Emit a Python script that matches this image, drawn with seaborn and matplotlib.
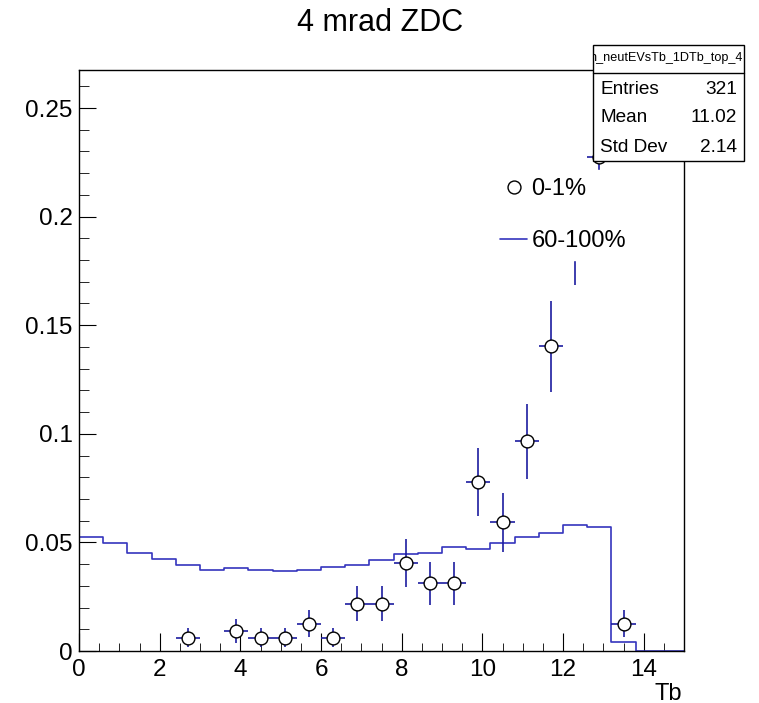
import numpy as np
import pandas as pd
import matplotlib
matplotlib.use("Agg")
import matplotlib.pyplot as plt
import seaborn as sns
from matplotlib.lines import Line2D
from matplotlib.patches import Rectangle
from matplotlib.ticker import MultipleLocator

# ------------ data -----------------------------------
# 25 bins of width 0.6 between 0 and 15
bin_edges = np.linspace(0, 15, 26)
bin_centers = 0.5 * (bin_edges[:-1] + bin_edges[1:])

# 60-100% (normalised histogram, blue step line)
peripheral = [0.0526, 0.0498, 0.0449, 0.0424, 0.0394, 0.0371, 0.0381, 0.0374,
              0.0369, 0.0375, 0.0386, 0.0394, 0.0418, 0.0446, 0.0449, 0.0479,
              0.0470, 0.0498, 0.0527, 0.0545, 0.0580, 0.0570, 0.0041, 0.0, 0.0]

# 0-1% (points with errors), only non-empty bins
central_x = [2.7, 3.9, 4.5, 5.1, 5.7, 6.3, 6.9, 7.5, 8.1, 8.7, 9.3, 9.9,
             10.5, 11.1, 11.7, 12.3, 12.9, 13.5]
central_y = [0.0062, 0.0093, 0.0062, 0.0062, 0.0125, 0.0062, 0.0218, 0.0218,
             0.0405, 0.0312, 0.0312, 0.0779, 0.0592, 0.0966, 0.1402, 0.1931,
             0.2274, 0.0125]
central_err = [0.0044, 0.0054, 0.0044, 0.0044, 0.0062, 0.0044, 0.0082, 0.0082,
               0.0112, 0.0099, 0.0099, 0.0156, 0.0136, 0.0173, 0.0209, 0.0245,
               0.0266, 0.0062]

stats_name = "h_neutEVsTb_1DTb_top_4"
stats_rows = [("Entries", "321"), ("Mean", "11.02"), ("Std Dev", "2.14")]

hist_color = "#3535bd"
err_color = "#1c1ca0"

df_per = pd.DataFrame({"Tb": bin_centers, "w": peripheral})
df_cen = pd.DataFrame({"Tb": central_x, "y": central_y, "err": central_err})

# ------------ figure --------------
sns.set_style("ticks")
plt.rcParams["font.family"] = ["Liberation Sans", "DejaVu Sans"]
plt.rcParams["text.color"] = "black"
plt.rcParams["axes.labelcolor"] = "black"
plt.rcParams["xtick.color"] = "black"
plt.rcParams["ytick.color"] = "black"

W, H = 759, 703
fig = plt.figure(figsize=(W / 100, H / 100), dpi=100)
ax = fig.add_axes([79 / W, 52 / H, 605 / W, 581 / H])

sns.histplot(data=df_per, x="Tb", weights="w", binwidth=0.6, binrange=(0, 15),
             element="step", fill=False, color=hist_color, linewidth=1.2, ax=ax)

ax.errorbar(df_cen["Tb"], df_cen["y"], yerr=df_cen["err"], xerr=0.3, fmt="none",
            ecolor=err_color, elinewidth=1.2, capsize=0, zorder=2)
sns.scatterplot(data=df_cen, x="Tb", y="y", marker="o", s=85, color="white",
                edgecolor="black", linewidth=1.0, zorder=3, ax=ax)

ax.set_xlim(0, 15)
ax.set_ylim(0, 0.2675)
ax.xaxis.set_major_locator(MultipleLocator(2))
ax.xaxis.set_minor_locator(MultipleLocator(0.5))
ax.yaxis.set_minor_locator(MultipleLocator(0.01))
ax.set_yticks([0, 0.05, 0.1, 0.15, 0.2, 0.25])
ax.set_yticklabels(["0", "0.05", "0.1", "0.15", "0.2", "0.25"])
ax.tick_params(which="both", direction="in", labelsize=17.5, color="black",
               labelcolor="black")
ax.tick_params(axis="x", which="major", length=13, pad=6)
ax.tick_params(axis="x", which="minor", length=6)
ax.tick_params(axis="y", which="major", length=12, pad=4.5)
ax.tick_params(axis="y", which="minor", length=7)
for s in ax.spines.values():
    s.set_visible(True)
    s.set_color("black")
    s.set_linewidth(1.0)
ax.set_ylabel("")
ax.set_xlabel("Tb", fontsize=17, ha="right", va="baseline")
ax.xaxis.set_label_coords(0.997, -0.0835)

fig.text(380 / W, 1 - 23 / H, "4 mrad ZDC", fontsize=22, ha="center", va="center")

# legend
handles = [
    Line2D([], [], linestyle="none", marker="o", markersize=9.3,
           markerfacecolor="white", markeredgecolor="black", markeredgewidth=1.0),
    Line2D([], [], color=hist_color, linewidth=1.2),
]
leg = ax.legend(handles, ["0-1%", "60-100%"], loc="upper left",
                bbox_to_anchor=(492 / W, 1 - 170 / H), bbox_transform=fig.transFigure,
                fontsize=17, frameon=True, fancybox=False, framealpha=1.0,
                facecolor="white", edgecolor="white", borderpad=0.35,
                borderaxespad=0, handlelength=1.15, handletextpad=0.17,
                labelspacing=1.25)
leg.set_zorder(5)

# stats box
x0, x1, y0, y1, ysep = 593, 744, 45, 161, 73
box = Rectangle((x0 / W, 1 - y1 / H), (x1 - x0) / W, (y1 - y0) / H,
                transform=fig.transFigure, facecolor="white",
                edgecolor="black", linewidth=1.0, zorder=10)
fig.add_artist(box)
fig.add_artist(Line2D([x0 / W, x1 / W], [1 - ysep / H, 1 - ysep / H],
                      transform=fig.transFigure, color="black", linewidth=1.0,
                      zorder=11))
head = fig.text(x1 / W - 1 / W, 1 - 58 / H, stats_name, fontsize=9.1,
                ha="right", va="center", zorder=12)
head.set_clip_path(box)
for i, (lab, val) in enumerate(stats_rows):
    yy = 1 - (89 + 29 * i) / H
    fig.text(600 / W, yy, lab, fontsize=13.7, ha="left", va="center", zorder=12)
    fig.text(737 / W, yy, val, fontsize=13.7, ha="right", va="center", zorder=12)

fig.savefig("out.png", dpi=100)
